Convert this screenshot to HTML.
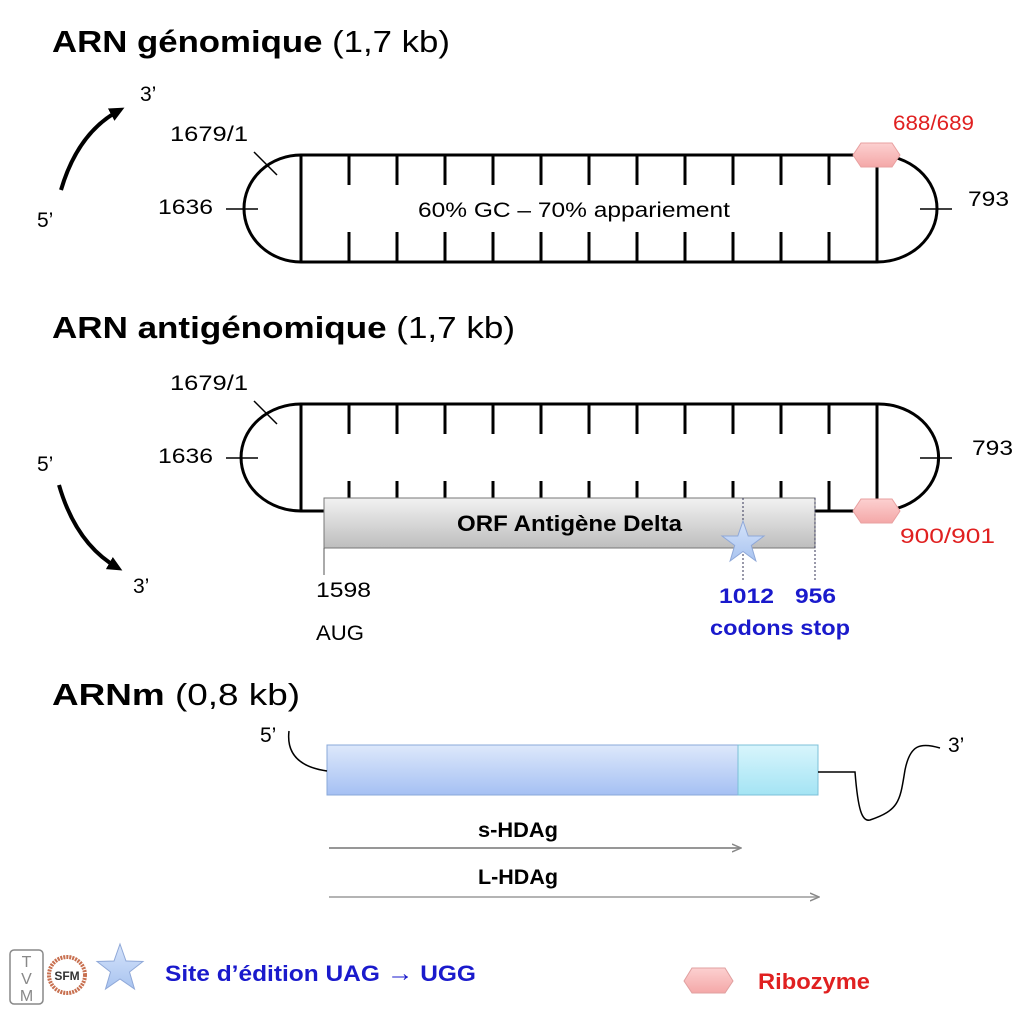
<!DOCTYPE html>
<html><head><meta charset="utf-8"><style>
html,body{margin:0;padding:0;background:#fff;}
svg{display:block;font-family:"Liberation Sans",sans-serif;}
</style></head><body>
<svg width="1024" height="1014" viewBox="0 0 1024 1014" xmlns="http://www.w3.org/2000/svg">
<defs>
<linearGradient id="hex" x1="0" y1="0" x2="0" y2="1"><stop offset="0" stop-color="#fcd0d0"/><stop offset="1" stop-color="#f4a8a8"/></linearGradient>
<linearGradient id="gray" x1="0" y1="0" x2="0" y2="1"><stop offset="0" stop-color="#f2f2f2"/><stop offset="1" stop-color="#bdbdbd"/></linearGradient>
<linearGradient id="blue" x1="0" y1="0" x2="0" y2="1"><stop offset="0" stop-color="#dde8fb"/><stop offset="1" stop-color="#a5c0f3"/></linearGradient>
<linearGradient id="cyan" x1="0" y1="0" x2="0" y2="1"><stop offset="0" stop-color="#d8f5fc"/><stop offset="1" stop-color="#a4e4f4"/></linearGradient>
<linearGradient id="star" x1="0" y1="0" x2="0" y2="1"><stop offset="0" stop-color="#d5e3fa"/><stop offset="1" stop-color="#a9c4f0"/></linearGradient>
<marker id="ah" markerWidth="16" markerHeight="16" refX="10" refY="8" orient="auto" markerUnits="userSpaceOnUse"><path d="M0,1 L15,8 L0,15 z" fill="#000"/></marker>
<marker id="gh" markerWidth="10" markerHeight="10" refX="8" refY="5" orient="auto" markerUnits="userSpaceOnUse"><path d="M0,1 L9,5 L0,9" fill="none" stroke="#888" stroke-width="1.5"/></marker>
</defs>

<!-- Titles -->
<text x="52" y="52" font-size="31" textLength="398" lengthAdjust="spacingAndGlyphs"><tspan font-weight="bold">ARN génomique</tspan> (1,7 kb)</text>
<text x="52" y="338" font-size="31" textLength="463" lengthAdjust="spacingAndGlyphs"><tspan font-weight="bold">ARN antigénomique</tspan> (1,7 kb)</text>
<text x="52" y="705" font-size="31" textLength="248" lengthAdjust="spacingAndGlyphs"><tspan font-weight="bold">ARNm</tspan> (0,8 kb)</text>

<!-- Genomic structure -->
<g stroke="#000" stroke-width="3" fill="none">
<path d="M301,155 L877,155 M301,262 L877,262"/>
<path d="M301,155 A57,53.5 0 0 0 301,262"/>
<path d="M877,155 A60,53.5 0 0 1 877,262"/>
<path d="M301,155 V262 M877,155 V262"/>
<path d="M349,155V185 M397,155V185 M445,155V185 M493,155V185 M541,155V185 M589,155V185 M637,155V185 M685,155V185 M733,155V185 M781,155V185 M829,155V185"/>
<path d="M349,232V262 M397,232V262 M445,232V262 M493,232V262 M541,232V262 M589,232V262 M637,232V262 M685,232V262 M733,232V262 M781,232V262 M829,232V262"/>
</g>
<g stroke="#000" stroke-width="1.5">
<path d="M254,152 L277,175 M226,209 L258,209 M920,209 L952,209"/>
</g>
<polygon points="853,155 861,143 892,143 900,155 892,167 861,167" fill="url(#hex)" stroke="#e8a0a0"/>
<text x="418" y="217" font-size="21" textLength="312" lengthAdjust="spacingAndGlyphs">60% GC – 70% appariement</text>
<text x="170" y="141" font-size="21" textLength="78" lengthAdjust="spacingAndGlyphs">1679/1</text>
<text x="158" y="214" font-size="21" textLength="55" lengthAdjust="spacingAndGlyphs">1636</text>
<text x="968" y="206" font-size="21" textLength="41" lengthAdjust="spacingAndGlyphs">793</text>
<text x="893" y="130" font-size="21" fill="#e02020" textLength="81" lengthAdjust="spacingAndGlyphs">688/689</text>
<path d="M61,190 Q78,132 120,110" stroke="#000" stroke-width="4" fill="none" marker-end="url(#ah)"/>
<text x="140" y="101" font-size="21">3’</text>
<text x="37" y="227" font-size="21">5’</text>

<!-- Antigenomic structure -->
<g stroke="#000" stroke-width="3" fill="none">
<path d="M301,404 L877,404 M301,511 L324,511 M815,511 L857,511"/>
<path d="M301,404 A60,53.5 0 0 0 301,511"/>
<path d="M877,404 A60,53.5 0 0 1 890,510"/>
<path d="M301,404 V511 M877,404 V500"/>
<path d="M349,404V434 M397,404V434 M445,404V434 M493,404V434 M541,404V434 M589,404V434 M637,404V434 M685,404V434 M733,404V434 M781,404V434 M829,404V434"/>
<path d="M349,481V498 M397,481V498 M445,481V498 M493,481V498 M541,481V498 M589,481V498 M637,481V498 M685,481V498 M733,481V498 M781,481V498 M829,481V511"/>
</g>
<g stroke="#000" stroke-width="1.5">
<path d="M254,401 L277,424 M226,458 L258,458 M920,458 L952,458"/>
</g>
<rect x="324" y="498" width="491" height="50" fill="url(#gray)" stroke="#777" stroke-width="1"/>
<polygon points="853,511 861,499 892,499 900,511 892,523 861,523" fill="url(#hex)" stroke="#e8a0a0"/>
<line x1="324" y1="548" x2="324" y2="575" stroke="#555" stroke-width="1"/>
<line x1="743" y1="498" x2="743" y2="580" stroke="#335" stroke-width="1" stroke-dasharray="2,2"/>
<line x1="815" y1="498" x2="815" y2="580" stroke="#335" stroke-width="1" stroke-dasharray="2,2"/>
<polygon points="743,521 748.2,536 764,536 751.3,545.5 755.9,561 743,551.5 730.1,561 734.7,545.5 722,536 737.8,536" fill="url(#star)" stroke="#8fa8d8"/>
<text x="457" y="531" font-size="22" font-weight="bold" textLength="225" lengthAdjust="spacingAndGlyphs">ORF Antigène Delta</text>
<text x="170" y="390" font-size="21" textLength="78" lengthAdjust="spacingAndGlyphs">1679/1</text>
<text x="158" y="463" font-size="21" textLength="55" lengthAdjust="spacingAndGlyphs">1636</text>
<text x="972" y="455" font-size="21" textLength="41" lengthAdjust="spacingAndGlyphs">793</text>
<text x="900" y="543" font-size="21" fill="#e02020" textLength="95" lengthAdjust="spacingAndGlyphs">900/901</text>
<text x="316" y="597" font-size="21" textLength="55" lengthAdjust="spacingAndGlyphs">1598</text>
<text x="316" y="640" font-size="21" textLength="48" lengthAdjust="spacingAndGlyphs">AUG</text>
<text x="719" y="603" font-size="21" font-weight="bold" fill="#1a1acc" textLength="55" lengthAdjust="spacingAndGlyphs">1012</text>
<text x="795" y="603" font-size="21" font-weight="bold" fill="#1a1acc" textLength="41" lengthAdjust="spacingAndGlyphs">956</text>
<text x="710" y="635" font-size="21" font-weight="bold" fill="#1a1acc" textLength="140" lengthAdjust="spacingAndGlyphs">codons stop</text>
<path d="M59,485 Q76,544 118,568" stroke="#000" stroke-width="4" fill="none" marker-end="url(#ah)"/>
<text x="37" y="471" font-size="21">5’</text>
<text x="133" y="593" font-size="21">3’</text>

<!-- mRNA -->
<rect x="327" y="745" width="411" height="50" fill="url(#blue)" stroke="#8aa8d8" stroke-width="1"/>
<rect x="738" y="745" width="80" height="50" fill="url(#cyan)" stroke="#7cc0d8" stroke-width="1"/>
<path d="M289,731 Q285,765 327,771" stroke="#000" stroke-width="1.5" fill="none"/>
<path d="M818,772 L855,772 C858,810 862,822 870,820 C900,810 900,800 905,770 C910,745 920,742 940,748" stroke="#000" stroke-width="1.5" fill="none"/>
<text x="260" y="742" font-size="21">5’</text>
<text x="948" y="752" font-size="21">3’</text>
<text x="478" y="837" font-size="21" font-weight="bold" textLength="80" lengthAdjust="spacingAndGlyphs">s-HDAg</text>
<line x1="329" y1="848" x2="740" y2="848" stroke="#888" stroke-width="1.8" marker-end="url(#gh)"/>
<text x="478" y="884" font-size="21" font-weight="bold" textLength="80" lengthAdjust="spacingAndGlyphs">L-HDAg</text>
<line x1="329" y1="897" x2="818" y2="897" stroke="#aaa" stroke-width="1.8" marker-end="url(#gh)"/>

<!-- Legend -->
<rect x="10" y="950" width="33" height="54" rx="4" fill="#fff" stroke="#888" stroke-width="1.5"/>
<text x="26.5" y="967" font-size="16" fill="#888" text-anchor="middle">T</text>
<text x="26.5" y="984" font-size="16" fill="#888" text-anchor="middle">V</text>
<text x="26.5" y="1001" font-size="16" fill="#888" text-anchor="middle">M</text>
<circle cx="67" cy="975" r="18" fill="#fff" stroke="#c87050" stroke-width="4" stroke-dasharray="2,1"/>
<text x="67" y="980" font-size="12" font-weight="bold" fill="#333" text-anchor="middle">SFM</text>
<polygon points="120,944 126,961 143,961.5 129.5,972 134.5,989 120,979 105.5,989 110.5,972 97,961.5 114,961" fill="url(#star)" stroke="#8fa8d8"/>
<text x="165" y="981" font-size="22" font-weight="bold" fill="#1a1acc" textLength="311" lengthAdjust="spacingAndGlyphs">Site d’édition  UAG <tspan font-size="24">→</tspan> UGG</text>
<polygon points="684,981 692,968 725,968 733,981 725,993 692,993" fill="url(#hex)" stroke="#e0a0a0"/>
<text x="758" y="989" font-size="22" font-weight="bold" fill="#e02020" textLength="112" lengthAdjust="spacingAndGlyphs">Ribozyme</text>
</svg>
</body></html>
